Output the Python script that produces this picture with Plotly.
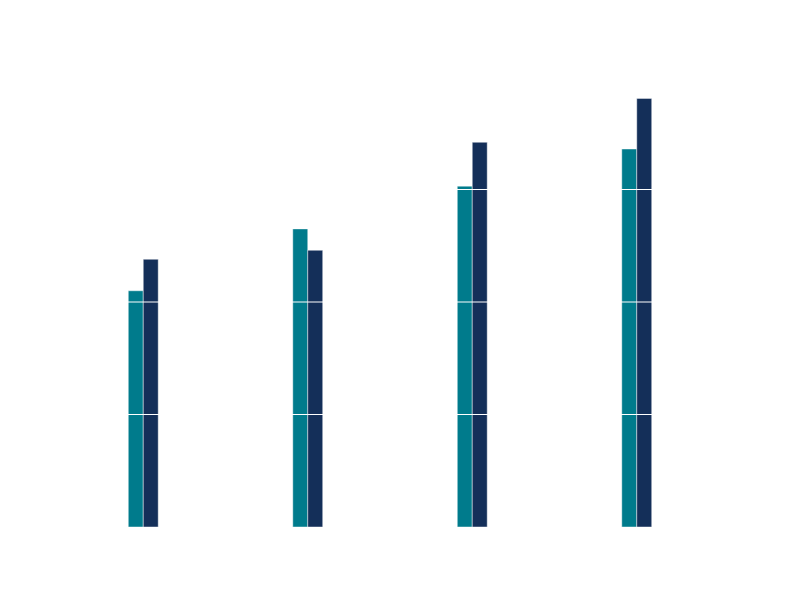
import plotly.graph_objects as go

categories = ["A", "B", "C", "D"]
series_1 = [2.10, 2.65, 3.03, 3.36]
series_2 = [2.38, 2.46, 3.42, 3.81]
grid_values = [1, 2, 3]

fig = go.Figure()
fig.add_trace(go.Bar(x=categories, y=series_1, name="Series 1",
                     marker=dict(color="#007B8C", line=dict(color="rgba(255,255,255,0.45)", width=1))))
fig.add_trace(go.Bar(x=categories, y=series_2, name="Series 2",
                     marker=dict(color="#142F59", line=dict(color="rgba(255,255,255,0.45)", width=1))))

for g in grid_values:
    fig.add_shape(type="line", xref="paper", yref="y", x0=0, x1=1, y0=g, y1=g,
                  line=dict(color="white", width=1), layer="above")

fig.update_layout(
    width=800, height=603,
    margin=dict(l=53, r=89, t=69, b=84),
    paper_bgcolor="white", plot_bgcolor="white",
    barmode="group", bargap=0.818, bargroupgap=0,
    showlegend=False,
    xaxis=dict(showticklabels=False, showgrid=False, zeroline=False, showline=False, ticks=""),
    yaxis=dict(range=[0, 4], showticklabels=False, showgrid=False, zeroline=False, showline=False, ticks=""),
)

fig.write_html("out.html")
